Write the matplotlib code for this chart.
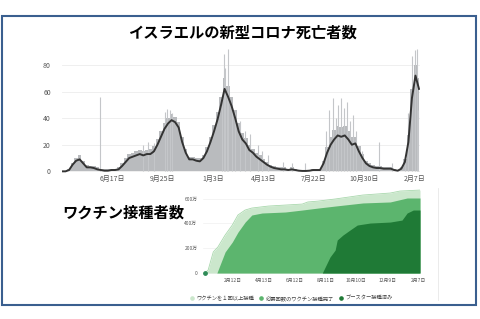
import numpy as np
import matplotlib
matplotlib.use("Agg")
import matplotlib.pyplot as plt
from matplotlib.patches import Rectangle
from matplotlib.lines import Line2D

plt.rcParams['font.family'] = ['Noto Sans CJK JP', 'DejaVu Sans']

# --- deaths chart (weekly samples, first week starts 2020-03-10) ---
death_start = np.datetime64('2020-03-10')
death_avg = [0, 0, 1, 5, 8, 9, 6, 3, 3, 2.5, 1.5, 1, 0.5, 0.5, 1, 1, 1.5, 4, 7, 10,
             11, 12, 13, 12, 13, 13, 15, 20, 26, 32, 36, 38.5, 37, 33, 22, 14, 9, 9, 8, 7.5,
             10, 15, 22, 30, 39, 50, 62, 56, 49, 40, 30, 24, 21, 16, 14, 11, 9, 7, 5, 3.5,
             2.5, 2, 1.5, 1.5, 1, 1.5, 1, 0.5, 0.3, 0.3, 0.5, 1, 1, 1, 6, 14, 20, 24, 27, 26,
             27, 24, 20, 21, 15, 10, 6, 4, 3, 2.5, 2.5, 2, 2, 2, 1, 0.5, 2, 7, 22, 55,
             72, 62]
death_daily = [0, 0, 2, 6, 10, 12, 8, 5, 4, 4, 3, 2, 2, 2, 2, 2, 3, 6, 10, 13,
               14, 15, 16, 15, 16, 17, 19, 24, 30, 36, 40, 43, 41, 37, 26, 17, 11, 11, 10, 10,
               12, 18, 26, 35, 45, 56, 70, 64, 56, 46, 36, 29, 25, 20, 17, 14, 12, 9, 7, 5,
               4, 3, 3, 3, 2, 3, 2, 1, 1, 1, 1, 2, 2, 2, 8, 18, 26, 31, 34, 33,
               34, 30, 26, 26, 19, 13, 8, 6, 5, 4, 4, 3, 3, 3, 2, 1, 3, 9, 27, 62,
               80, 70]
# single-day spikes (days since 2020-03-10)
spike_day = [75, 160, 170, 182, 204, 208, 214, 218, 317, 321, 323, 327, 329, 337, 343,
             352, 362, 372, 388, 396, 408, 438, 455, 481, 523, 529, 537, 543, 547, 552,
             558, 564, 570, 576, 582, 594, 628, 653, 679, 685, 693, 699, 703, 705]
spike_val = [56, 20, 22, 21, 45, 47, 46, 44, 50, 88, 78, 60, 92, 50, 45,
             38, 30, 28, 20, 15, 12, 7, 6, 6, 30, 46, 55, 40, 50, 55,
             48, 52, 38, 42, 30, 15, 22, 6, 12, 44, 87, 91, 92, 46]
death_tick_dates = ['2020-06-17', '2020-09-25', '2021-01-03', '2021-04-13',
                    '2021-07-22', '2021-10-30', '2022-02-07']
death_tick_labels = ['6月17日', '9月25日', '1月3日', '4月13日', '7月22日', '10月30日', '2月7日']

# --- vaccination chart (days since 2020-12-20, values in 万人) ---
vax_start = np.datetime64('2020-12-20')
dose1_day = [0, 6, 16, 25, 39, 53, 64, 78, 91, 123, 156, 189, 200, 220, 253, 307, 360, 379, 418]
dose1_val = [0, 24, 170, 210, 306, 387, 468, 508, 524, 540, 548, 556, 573, 580, 597, 629, 645, 661, 669]
full_day = [23, 39, 53, 64, 78, 91, 111, 156, 189, 220, 253, 307, 360, 393, 418]
full_val = [0, 170, 250, 330, 411, 468, 484, 492, 508, 524, 540, 565, 573, 605, 605]
boost_day = [228, 243, 253, 257, 268, 282, 296, 321, 360, 383, 393, 405, 418]
boost_val = [0, 129, 185, 266, 306, 347, 387, 403, 411, 427, 484, 508, 508]
vax_tick_dates = ['2021-02-12', '2021-04-13', '2021-06-12', '2021-08-11',
                  '2021-10-10', '2021-12-09', '2022-02-07']
vax_tick_labels = ['2月12日', '4月13日', '6月12日', '8月11日', '10月10日', '12月9日', '2月7日']
vax_legend = ['ワクチンを１回以上接種', '必要回数のワクチン接種完了', 'ブースター接種済み']
vax_colors = ['#cbe7cc', '#5cb56e', '#1f7a36']

W, H = 480, 319
fig = plt.figure(figsize=(4.8, 3.19), dpi=100)
fig.patches.append(Rectangle((2 / W, 1 - 305 / H), 474 / W, 289 / H, transform=fig.transFigure,
                             fill=False, edgecolor='#3a5f8f', lw=1.5))
fig.text(242 / W, 1 - 33 / H, 'イスラエルの新型コロナ死亡者数', ha='center', va='center',
         fontsize=11, fontweight='bold')
fig.text(123 / W, 1 - 213 / H, 'ワクチン接種者数', ha='center', va='center',
         fontsize=11, fontweight='bold')

# deaths
ax1 = fig.add_axes([62 / W, 1 - 174 / H, 358 / W, 125 / H])
wk = death_start + np.arange(len(death_avg)) * np.timedelta64(7, 'D')
ax1.fill_between(wk, death_daily, step='mid', color='#b9bbbe', lw=0)
sp = death_start + np.array(spike_day) * np.timedelta64(1, 'D')
ax1.vlines(sp, 0, spike_val, color='#c4c6c9', lw=0.8)
ax1.plot(wk, death_avg, color='#333333', lw=1.4)
ax1.set_ylim(-2, 92)
ax1.set_xlim(death_start, np.datetime64('2022-02-17'))
ax1.set_yticks([0, 20, 40, 60, 80])
ax1.set_xticks(np.array(death_tick_dates, dtype='datetime64[D]'))
ax1.set_xticklabels(death_tick_labels)
ax1.grid(axis='y', color='#ececec', lw=0.6)
ax1.set_axisbelow(True)
for s in ax1.spines.values():
    s.set_visible(False)
ax1.tick_params(length=0, labelsize=5, labelcolor='#555555')
ax1.tick_params(axis='y', pad=8)
ax1.tick_params(axis='x', pad=1)

# vaccination
ax2 = fig.add_axes([203 / W, 1 - 275.5 / H, 217 / W, 86.8 / H])
td = np.timedelta64(1, 'D')
ax2.fill_between(vax_start + np.array(dose1_day) * td, dose1_val, color=vax_colors[0], lw=0)
ax2.plot(vax_start + np.array(dose1_day) * td, dose1_val, color='#a9d8ad', lw=0.6)
ax2.fill_between(vax_start + np.array(full_day) * td, full_val, color=vax_colors[1], lw=0)
ax2.fill_between(vax_start + np.array(boost_day) * td, boost_val, color=vax_colors[2], lw=0)
ax2.scatter([vax_start], [0], s=6, color='#2e8b57', zorder=5, clip_on=False)
ax2.set_xlim(np.datetime64('2020-12-16'), np.datetime64('2022-02-11'))
ax2.set_ylim(-20, 680)
ax2.set_yticks([0, 200, 400, 600])
ax2.set_yticklabels(['0', '200万', '400万', '600万'])
ax2.set_xticks(np.array(vax_tick_dates, dtype='datetime64[D]'))
ax2.set_xticklabels(vax_tick_labels)
ax2.grid(axis='y', color='#f0f0f0', lw=0.5)
ax2.set_axisbelow(True)
for s in ax2.spines.values():
    s.set_visible(False)
ax2.tick_params(length=0, labelsize=3.5, labelcolor='#555555')
ax2.tick_params(axis='y', pad=4)
ax2.tick_params(axis='x', pad=2)

handles = [Line2D([], [], ls='', marker='o', ms=2.3, color=c) for c in vax_colors]
fig.legend(handles, vax_legend, loc='center left', bbox_to_anchor=(186 / W, 1 - 298 / H),
           ncol=3, fontsize=3.8, frameon=False, handletextpad=0.3, columnspacing=0.8,
           handlelength=1.1, borderpad=0, labelcolor='#444444')
fig.add_artist(Line2D([438 / W, 438 / W], [1 - 188 / H, 1 - 300 / H], color='#e8e8e8', lw=0.6))

fig.savefig('out.png', dpi=100)
